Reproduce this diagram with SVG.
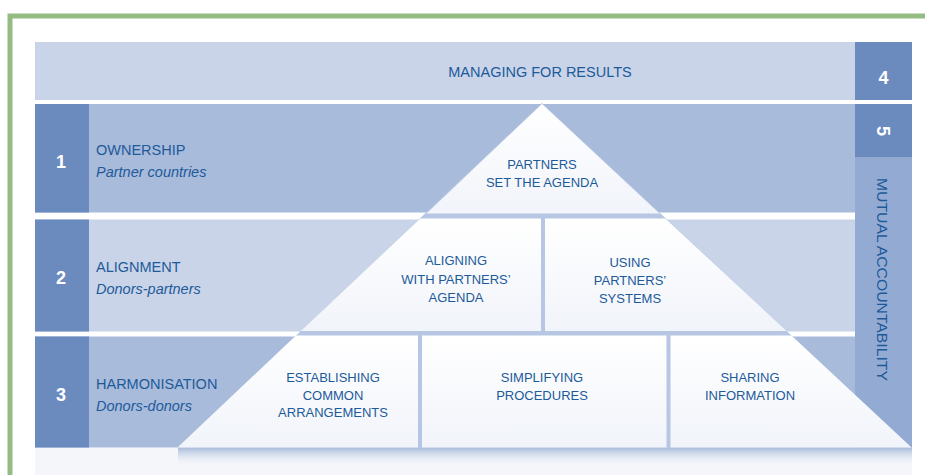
<svg xmlns="http://www.w3.org/2000/svg" width="925" height="475" viewBox="0 0 925 475">
  <defs>
    <style>
      .lbl { font-family: "Liberation Sans", Arial, sans-serif; fill: #1d5a9a; }
      .head { font-size: 14.5px; }
      .sub { font-size: 14.5px; font-style: italic; }
      .pyr { font-size: 13px; text-anchor: middle; }
      .num { font-family: "Liberation Sans", Arial, sans-serif; font-weight: bold; font-size: 18px; fill: #ffffff; text-anchor: middle; }
      .dark { fill: #6b8bbf; }
      .mid { fill: #a9bbdb; }
      .light { fill: #c9d4e8; }
      .col { fill: #93aad3; }
      .piece { fill: url(#pieceGrad); }
    </style>
    <linearGradient id="pieceGrad" x1="0" y1="0" x2="0" y2="1">
      <stop offset="0" stop-color="#ffffff"/>
      <stop offset="1" stop-color="#f1f4fa"/>
    </linearGradient>
    <linearGradient id="shadowGrad" x1="0" y1="0" x2="0" y2="1">
      <stop offset="0" stop-color="#9fb3d6" stop-opacity="0.9"/>
      <stop offset="1" stop-color="#ffffff" stop-opacity="0"/>
    </linearGradient>
  </defs>

  <rect x="0" y="0" width="925" height="475" fill="#ffffff"/>

  <g id="frame">
    <path d="M10 475 V16 H925" fill="none" stroke="#95bb85" stroke-width="5"/>
  </g>

  <rect x="35" y="447.5" width="877" height="27.5" fill="#f4f6fa"/>

  <g id="managing-for-results">
    <rect class="light" x="35" y="42" width="820" height="58"/>
    <text class="lbl head" x="540" y="77" text-anchor="middle">MANAGING FOR RESULTS</text>
  </g>
  <g id="box-4">
    <rect class="dark" x="855" y="42" width="57" height="58"/>
    <text class="num" x="883.5" y="84">4</text>
  </g>

  <g id="row-1">
    <rect class="mid" x="35" y="104" width="820" height="108.5"/>
    <rect class="dark" x="35" y="104" width="54" height="108.5"/>
    <text class="num" x="61" y="168">1</text>
    <text class="lbl head" x="96" y="155">OWNERSHIP</text>
    <text class="lbl sub" x="96" y="177">Partner countries</text>
  </g>

  <g id="row-2">
    <rect class="light" x="35" y="219.5" width="820" height="112"/>
    <rect class="dark" x="35" y="219.5" width="54" height="112"/>
    <text class="num" x="61" y="284">2</text>
    <text class="lbl head" x="96" y="272">ALIGNMENT</text>
    <text class="lbl sub" x="96" y="294">Donors-partners</text>
  </g>

  <g id="row-3">
    <rect class="mid" x="35" y="336.5" width="820" height="111"/>
    <rect class="dark" x="35" y="336.5" width="54" height="111"/>
    <text class="num" x="61" y="401">3</text>
    <text class="lbl head" x="96" y="388.5">HARMONISATION</text>
    <text class="lbl sub" x="96" y="411">Donors-donors</text>
  </g>

  <g id="box-5">
    <rect class="dark" x="855" y="104" width="57" height="53"/>
    <text class="num" transform="translate(877,131) rotate(90)" x="0" y="0">5</text>
  </g>

  <g id="mutual-accountability">
    <rect class="col" x="855" y="157" width="57" height="290.5"/>
    <text class="lbl" font-size="14.5" text-anchor="middle" textLength="203" lengthAdjust="spacingAndGlyphs" transform="translate(877,279.5) rotate(90)" x="0" y="0">MUTUAL ACCOUNTABILITY</text>
  </g>

  <g id="pyramid-shadow">
    <rect x="178" y="447.5" width="734" height="20" fill="url(#shadowGrad)"/>
  </g>

  <g id="pyramid-base">
    <polygon points="542,103 177.5,447.5 911.5,447.5" fill="#b7c7e3"/>
  </g>

  <g id="partners-set-the-agenda">
    <polygon class="piece" points="542,104 426.5,213.5 659.5,213.5"/>
    <text class="lbl pyr" x="542" y="169">PARTNERS</text>
    <text class="lbl pyr" x="542" y="187">SET THE AGENDA</text>
  </g>

  <g id="aligning">
    <polygon class="piece" points="420.3,218.5 541,218.5 541,331 300.8,331"/>
    <text class="lbl pyr" x="456" y="265">ALIGNING</text>
    <text class="lbl pyr" x="456" y="284">WITH PARTNERS’</text>
    <text class="lbl pyr" x="456" y="302">AGENDA</text>
  </g>

  <g id="using-systems">
    <polygon class="piece" points="545,218.5 665.3,218.5 786.5,331 545,331"/>
    <text class="lbl pyr" x="630" y="267">USING</text>
    <text class="lbl pyr" x="630" y="285">PARTNERS’</text>
    <text class="lbl pyr" x="630" y="303">SYSTEMS</text>
  </g>

  <g id="establishing">
    <polygon class="piece" points="296,335.5 418,335.5 418,447.5 177.5,447.5"/>
    <text class="lbl pyr" x="333" y="382">ESTABLISHING</text>
    <text class="lbl pyr" x="333" y="400">COMMON</text>
    <text class="lbl pyr" x="333" y="417">ARRANGEMENTS</text>
  </g>

  <g id="simplifying">
    <polygon class="piece" points="422,335.5 666.5,335.5 666.5,447.5 422,447.5"/>
    <text class="lbl pyr" x="542" y="382">SIMPLIFYING</text>
    <text class="lbl pyr" x="542" y="400">PROCEDURES</text>
  </g>

  <g id="sharing">
    <polygon class="piece" points="670.5,335.5 791.4,335.5 911.5,447.5 670.5,447.5"/>
    <text class="lbl pyr" x="750" y="382">SHARING</text>
    <text class="lbl pyr" x="750" y="400">INFORMATION</text>
  </g>

  <g id="connectors"/>
</svg>
